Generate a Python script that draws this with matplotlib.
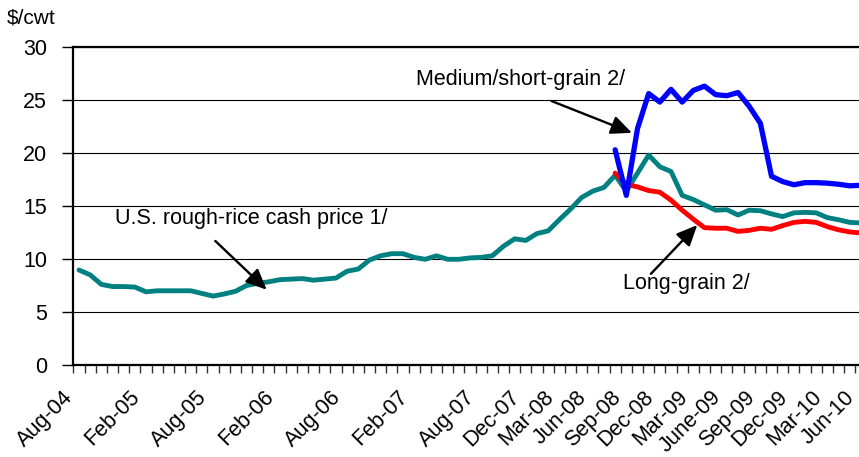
import matplotlib
matplotlib.use("Agg")
import matplotlib.pyplot as plt
import matplotlib.transforms as mtransforms
import numpy as np
import pandas as pd

plt.rcParams["font.family"] = ["Liberation Sans", "DejaVu Sans"]

# monthly categories, Aug-04 .. Jun-10
months = pd.date_range("2004-08-01", periods=71, freq="MS")

tick_months = ["2004-08", "2005-02", "2005-08", "2006-02", "2006-08", "2007-02",
               "2007-08", "2007-12", "2008-03", "2008-06", "2008-09", "2008-12",
               "2009-03", "2009-06", "2009-09", "2009-12", "2010-03", "2010-06"]
tick_labels = ["Aug-04", "Feb-05", "Aug-05", "Feb-06", "Aug-06", "Feb-07",
               "Aug-07", "Dec-07", "Mar-08", "Jun-08", "Sep-08", "Dec-08",
               "Mar-09", "June-09", "Sep-09", "Dec-09", "Mar-10", "Jun-10"]

rough_rice = [8.96, 8.5, 7.6, 7.4, 7.4, 7.35, 6.9, 7.0, 7.0, 7.0, 7.0, 6.75, 6.5,
              6.7, 6.95, 7.5, 7.7, 7.85, 8.05, 8.1, 8.15, 8.0, 8.1, 8.2, 8.85, 9.05,
              9.9, 10.3, 10.5, 10.5, 10.15, 9.97, 10.3, 9.97, 9.97, 10.1, 10.15, 10.3,
              11.2, 11.9, 11.75, 12.4, 12.65, 13.7, 14.7, 15.8, 16.4, 16.75,
              17.9, 16.4, 18.1, 19.8, 18.7, 18.25, 16.0, 15.6, 15.1, 14.6, 14.65,
              14.15, 14.6, 14.55, 14.25, 14.0, 14.35, 14.4, 14.35, 13.9, 13.7, 13.45, 13.4]

# long-grain and medium/short-grain start Aug-08
split_start = "2008-08"
long_grain = [18.1, 17.05, 16.8, 16.45, 16.3, 15.55, 14.6, 13.75, 12.95, 12.9, 12.9,
              12.6, 12.7, 12.9, 12.8, 13.15, 13.45, 13.55, 13.45, 13.05, 12.75, 12.55, 12.45]
medium_short = [20.3, 16.0, 22.3, 25.6, 24.8, 26.0, 24.8, 25.9, 26.3, 25.5, 25.4,
                25.7, 24.4, 22.8, 17.8, 17.3, 17.0, 17.2, 17.2, 17.15, 17.05, 16.9, 16.95]

x = np.arange(len(months))
s0 = months.get_loc(pd.Timestamp(split_start))
x_split = x[s0:s0 + len(long_grain)]

fig = plt.figure(figsize=(8.59, 4.57), dpi=100)
# plot area runs slightly past the right edge, as in the source image
ax = fig.add_axes([0.0855, 0.2013, 0.9232, 0.696])

ax.plot(x, rough_rice, color="#008080", lw=3.5, solid_capstyle="round", zorder=3)
ax.plot(x_split, long_grain, color="#FF0000", lw=3.5, solid_capstyle="round", zorder=4)
ax.plot(x_split, medium_short, color="#0000FF", lw=3.8, solid_capstyle="round", zorder=5)

ax.set_xlim(-0.5, len(months) - 0.5)
ax.set_ylim(0, 30)
ax.set_yticks(np.arange(0, 31, 5))
ax.yaxis.grid(True, color="black", lw=0.8)
ax.set_axisbelow(True)

for side in ("left", "bottom", "top"):
    ax.spines[side].set_linewidth(1.6)
ax.spines["right"].set_visible(False)

ax.tick_params(axis="y", direction="out", length=8, width=1.0, pad=11, labelsize=15.5)

pos = months.get_indexer(pd.to_datetime(tick_months))
ax.set_xticks(pos)
ax.set_xticklabels(tick_labels, rotation=45, ha="right", va="center",
                   rotation_mode="anchor", fontsize=15.5)
ax.set_xticks(np.arange(-0.5, len(months)), minor=True)
ax.tick_params(axis="x", which="major", length=0, pad=21)
ax.tick_params(axis="x", which="minor", direction="out", length=6, width=1.0,
               color="#333333")
shift = mtransforms.ScaledTranslation(-0.09, 0, fig.dpi_scale_trans)
for lab in ax.get_xticklabels():
    lab.set_transform(lab.get_transform() + shift)

fig.text(0.008, 0.96, "$/cwt", fontsize=15, ha="left", va="center")

arrow = dict(arrowstyle="-|>,head_length=0.6,head_width=0.27", mutation_scale=21,
             color="black", lw=1.7, shrinkA=0, shrinkB=0)
ax.annotate("", xy=(49.5, 21.9), xytext=(42.3, 24.9), arrowprops=arrow, zorder=6)
ax.annotate("", xy=(16.8, 7.1), xytext=(12.2, 11.7), arrowprops=arrow, zorder=6)
ax.annotate("", xy=(55.35, 13.2), xytext=(51.2, 8.6), arrowprops=arrow, zorder=6)

ax.text(30.2, 26.9, "Medium/short-grain 2/", fontsize=15.5, ha="left", va="center")
ax.text(3.2, 13.8, "U.S. rough-rice cash price 1/", fontsize=15.5, ha="left", va="center")
ax.text(48.7, 7.7, "Long-grain 2/", fontsize=15.5, ha="left", va="center")

fig.savefig("out.png", dpi=100)
